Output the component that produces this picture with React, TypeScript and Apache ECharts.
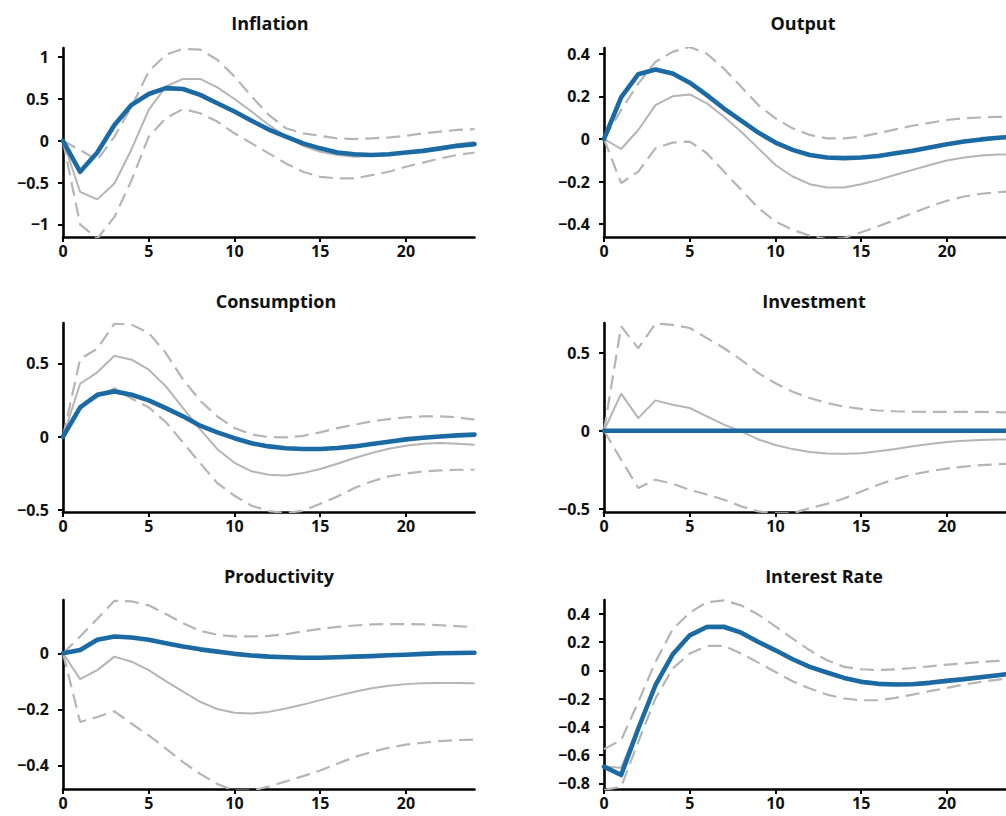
import React, { useEffect, useRef } from "react";
import * as echarts from "echarts";

// ---------- data ----------
const periods = [0, 1, 2, 3, 4, 5, 6, 7, 8, 9, 10, 11, 12, 13, 14, 15, 16, 17, 18, 19, 20, 21, 22, 23, 24];
const xTickValues = [0, 5, 10, 15, 20];

const inflationIrf = [0, -0.37, -0.14, 0.19, 0.43, 0.56, 0.63, 0.62, 0.55, 0.45, 0.35, 0.24, 0.135, 0.05, -0.03, -0.09, -0.14, -0.16, -0.17, -0.16, -0.14, -0.12, -0.09, -0.06, -0.04];
const inflationMedian = [0, -0.61, -0.7, -0.51, -0.1, 0.37, 0.65, 0.74, 0.74, 0.64, 0.5, 0.35, 0.19, 0.05, -0.06, -0.13, -0.17, -0.19, -0.18, -0.17, -0.14, -0.11, -0.08, -0.04, -0.01];
const inflationUpper = [0, -0.11, -0.23, 0.05, 0.41, 0.83, 1.03, 1.1, 1.09, 0.97, 0.77, 0.53, 0.31, 0.15, 0.09, 0.06, 0.03, 0.02, 0.03, 0.04, 0.06, 0.09, 0.11, 0.13, 0.14];
const inflationLower = [0, -1.0, -1.17, -0.91, -0.47, 0.05, 0.27, 0.38, 0.33, 0.23, 0.09, -0.03, -0.15, -0.27, -0.37, -0.43, -0.45, -0.45, -0.41, -0.37, -0.31, -0.26, -0.21, -0.17, -0.14];
const inflationTicks = [-1, -0.5, 0, 0.5, 1];

const outputIrf = [0, 0.195, 0.304, 0.326, 0.307, 0.264, 0.206, 0.143, 0.086, 0.03, -0.017, -0.051, -0.075, -0.087, -0.09, -0.087, -0.08, -0.067, -0.055, -0.04, -0.025, -0.012, -0.002, 0.006, 0.011];
const outputMedian = [0, -0.047, 0.042, 0.159, 0.2, 0.209, 0.167, 0.104, 0.034, -0.044, -0.122, -0.176, -0.212, -0.228, -0.228, -0.212, -0.192, -0.168, -0.145, -0.122, -0.101, -0.087, -0.078, -0.073, -0.072];
const outputUpper = [0, 0.136, 0.26, 0.362, 0.409, 0.432, 0.4, 0.33, 0.245, 0.159, 0.097, 0.05, 0.019, 0.003, 0.003, 0.011, 0.027, 0.045, 0.062, 0.076, 0.089, 0.097, 0.101, 0.104, 0.104];
const outputLower = [0, -0.207, -0.153, -0.044, -0.017, -0.012, -0.067, -0.153, -0.239, -0.324, -0.387, -0.426, -0.454, -0.47, -0.465, -0.438, -0.41, -0.379, -0.348, -0.317, -0.29, -0.27, -0.257, -0.25, -0.243];
const outputTicks = [-0.4, -0.2, 0, 0.2, 0.4];

const consumptionIrf = [0, 0.2, 0.286, 0.309, 0.286, 0.248, 0.195, 0.139, 0.075, 0.03, -0.01, -0.045, -0.066, -0.079, -0.084, -0.084, -0.077, -0.066, -0.05, -0.034, -0.018, -0.007, 0.002, 0.009, 0.014];
const consumptionMedian = [0, 0.361, 0.439, 0.552, 0.525, 0.457, 0.343, 0.195, 0.05, -0.085, -0.178, -0.236, -0.259, -0.264, -0.248, -0.22, -0.184, -0.145, -0.111, -0.082, -0.061, -0.048, -0.043, -0.048, -0.055];
const consumptionUpper = [0, 0.53, 0.6, 0.77, 0.764, 0.707, 0.57, 0.39, 0.245, 0.138, 0.06, 0.015, -0.002, -0.004, 0.006, 0.03, 0.059, 0.082, 0.105, 0.12, 0.132, 0.139, 0.139, 0.132, 0.116];
const consumptionLower = [0, 0.195, 0.27, 0.33, 0.26, 0.2, 0.1, -0.04, -0.18, -0.316, -0.402, -0.47, -0.507, -0.52, -0.505, -0.457, -0.407, -0.35, -0.305, -0.27, -0.252, -0.236, -0.23, -0.225, -0.225];
const consumptionTicks = [-0.5, 0, 0.5];

const investmentIrf = [0, 0, 0, 0, 0, 0, 0, 0, 0, 0, 0, 0, 0, 0, 0, 0, 0, 0, 0, 0, 0, 0, 0, 0, 0];
const investmentMedian = [0, 0.238, 0.081, 0.195, 0.167, 0.146, 0.092, 0.039, -0.004, -0.056, -0.092, -0.118, -0.137, -0.147, -0.148, -0.144, -0.132, -0.117, -0.1, -0.085, -0.073, -0.064, -0.06, -0.057, -0.057];
const investmentUpper = [0, 0.67, 0.53, 0.688, 0.68, 0.66, 0.595, 0.53, 0.455, 0.37, 0.305, 0.25, 0.21, 0.178, 0.155, 0.14, 0.13, 0.125, 0.122, 0.121, 0.121, 0.121, 0.121, 0.119, 0.117];
const investmentLower = [0, -0.186, -0.368, -0.315, -0.34, -0.38, -0.41, -0.443, -0.486, -0.518, -0.53, -0.53, -0.497, -0.47, -0.435, -0.39, -0.347, -0.31, -0.281, -0.26, -0.243, -0.23, -0.221, -0.215, -0.211];
const investmentTicks = [-0.5, 0, 0.5];

const productivityIrf = [0, 0.012, 0.048, 0.06, 0.056, 0.048, 0.036, 0.024, 0.014, 0.006, -0.002, -0.008, -0.012, -0.014, -0.016, -0.016, -0.014, -0.012, -0.01, -0.007, -0.005, -0.002, 0, 0.001, 0.002];
const productivityMedian = [0, -0.092, -0.06, -0.012, -0.03, -0.06, -0.099, -0.137, -0.173, -0.199, -0.212, -0.215, -0.209, -0.197, -0.183, -0.167, -0.152, -0.137, -0.125, -0.116, -0.11, -0.107, -0.106, -0.106, -0.107];
const productivityUpper = [0, 0.06, 0.123, 0.187, 0.185, 0.171, 0.14, 0.107, 0.08, 0.066, 0.06, 0.06, 0.062, 0.068, 0.078, 0.087, 0.094, 0.099, 0.103, 0.104, 0.104, 0.103, 0.1, 0.097, 0.093];
const productivityLower = [0, -0.245, -0.227, -0.207, -0.251, -0.293, -0.34, -0.388, -0.43, -0.466, -0.49, -0.49, -0.475, -0.457, -0.438, -0.418, -0.394, -0.37, -0.352, -0.337, -0.326, -0.319, -0.313, -0.31, -0.308];
const productivityTicks = [-0.4, -0.2, 0];

const interestIrf = [-0.682, -0.741, -0.412, -0.106, 0.111, 0.247, 0.306, 0.306, 0.266, 0.2, 0.141, 0.078, 0.024, -0.016, -0.054, -0.082, -0.096, -0.101, -0.099, -0.089, -0.075, -0.064, -0.049, -0.035, -0.019];
const interestMedian = [-0.68, -0.69, -0.4, -0.1, 0.115, 0.255, 0.315, 0.318, 0.275, 0.21, 0.148, 0.085, 0.03, -0.012, -0.048, -0.075, -0.089, -0.093, -0.09, -0.08, -0.066, -0.052, -0.038, -0.026, -0.015];
const interestUpper = [-0.558, -0.494, -0.224, 0.059, 0.289, 0.407, 0.482, 0.494, 0.459, 0.393, 0.311, 0.224, 0.141, 0.071, 0.024, 0.007, 0.002, 0.007, 0.016, 0.028, 0.04, 0.049, 0.059, 0.066, 0.071];
const interestLower = [-0.847, -0.824, -0.506, -0.2, 0.012, 0.118, 0.172, 0.172, 0.118, 0.054, -0.012, -0.078, -0.129, -0.172, -0.2, -0.212, -0.212, -0.195, -0.172, -0.148, -0.125, -0.101, -0.082, -0.066, -0.054];
const interestTicks = [-0.8, -0.6, -0.4, -0.2, 0, 0.2, 0.4];

const panels = [
  { title: "Inflation", irf: inflationIrf, median: inflationMedian, upper: inflationUpper, lower: inflationLower, ticks: inflationTicks, yMin: -1.15, yMax: 1.11 },
  { title: "Output", irf: outputIrf, median: outputMedian, upper: outputUpper, lower: outputLower, ticks: outputTicks, yMin: -0.46, yMax: 0.427 },
  { title: "Consumption", irf: consumptionIrf, median: consumptionMedian, upper: consumptionUpper, lower: consumptionLower, ticks: consumptionTicks, yMin: -0.513, yMax: 0.775 },
  { title: "Investment", irf: investmentIrf, median: investmentMedian, upper: investmentUpper, lower: investmentLower, ticks: investmentTicks, yMin: -0.522, yMax: 0.692 },
  { title: "Productivity", irf: productivityIrf, median: productivityMedian, upper: productivityUpper, lower: productivityLower, ticks: productivityTicks, yMin: -0.484, yMax: 0.19 },
  { title: "Interest Rate", irf: interestIrf, median: interestMedian, upper: interestUpper, lower: interestLower, ticks: interestTicks, yMin: -0.84, yMax: 0.497 },
];

// ---------- layout ----------
const colLeft = [63, 604];
const rowTop = [48, 323, 600];
const gridW = 411.5;
const gridH = 189;
const titleCenters = [
  [270, 23],
  [803, 23],
  [276, 301],
  [814, 301],
  [279, 576],
  [824, 576],
];

const FONT = "'Open Sans', 'DejaVu Sans', sans-serif";
const BLUE = "#1b6aa3";
const GRAY = "#b5b5b5";

const fmt = (v: number) => (v < 0 ? "\u2212" + String(Math.abs(v)) : String(v));

function buildOption() {
  const grid: any[] = [];
  const xAxis: any[] = [];
  const yAxis: any[] = [];
  const series: any[] = [];
  const graphic: any[] = [];

  panels.forEach((p, i) => {
    const col = i % 2;
    const row = Math.floor(i / 2);
    grid.push({
      left: colLeft[col],
      top: rowTop[row],
      width: gridW,
      height: gridH,
      containLabel: false,
      outerBoundsMode: "none",
    });
    const axisCommon = {
      axisLine: { show: true, onZero: false, lineStyle: { color: "#000", width: 2.6 } },
      splitLine: { show: false },
    };
    const labelCommon = {
      formatter: fmt,
      fontFamily: FONT,
      fontWeight: "bold",
      fontSize: 16,
      color: "#111",
    };
    xAxis.push({
      type: "value",
      gridIndex: i,
      min: 0,
      max: 24,
      ...axisCommon,
      axisTick: { show: true, inside: false, length: 5, lineStyle: { color: "#000", width: 2 }, customValues: xTickValues },
      axisLabel: { ...labelCommon, customValues: xTickValues, margin: 6 },
    });
    yAxis.push({
      type: "value",
      gridIndex: i,
      min: p.yMin,
      max: p.yMax,
      ...axisCommon,
      axisTick: { show: true, inside: false, length: 5, lineStyle: { color: "#000", width: 2 }, customValues: p.ticks },
      axisLabel: { ...labelCommon, customValues: p.ticks, margin: 14 },
    });
    const toPts = (arr: number[]) => periods.map((t, j) => [t, arr[j]]);
    const dashed = { color: GRAY, width: 2.2, type: [14, 7] as any };
    series.push({
      type: "line", xAxisIndex: i, yAxisIndex: i, data: toPts(p.lower), symbol: "none",
      lineStyle: dashed, z: 2, silent: true,
    });
    series.push({
      type: "line", xAxisIndex: i, yAxisIndex: i, data: toPts(p.upper), symbol: "none",
      lineStyle: dashed, z: 2, silent: true,
    });
    series.push({
      type: "line", xAxisIndex: i, yAxisIndex: i, data: toPts(p.median), symbol: "none",
      lineStyle: { color: GRAY, width: 2 }, z: 3, silent: true,
    });
    series.push({
      type: "line", xAxisIndex: i, yAxisIndex: i, data: toPts(p.irf), symbol: "none",
      lineStyle: { color: BLUE, width: 4.6, cap: "round", join: "round" }, z: 4, silent: true,
    });
    graphic.push({
      type: "text",
      x: titleCenters[i][0],
      y: titleCenters[i][1],
      style: {
        text: p.title,
        font: `bold 18px ${FONT}`,
        fill: "#111",
        align: "center",
        verticalAlign: "middle",
        textAlign: "center",
        textVerticalAlign: "middle",
      },
    });
  });

  return {
    animation: false,
    backgroundColor: "#fff",
    grid,
    xAxis,
    yAxis,
    series,
    graphic,
  };
}

export default function App() {
  const ref = useRef<HTMLDivElement>(null);
  useEffect(() => {
    if (!ref.current) return;
    const chart = echarts.init(ref.current, undefined, { renderer: "svg" });
    chart.setOption(buildOption() as any);
    return () => chart.dispose();
  }, []);
  return (
    <div
      ref={ref}
      style={{ position: "absolute", left: 0, top: 0, width: 1006, height: 816, background: "#fff" }}
    />
  );
}
